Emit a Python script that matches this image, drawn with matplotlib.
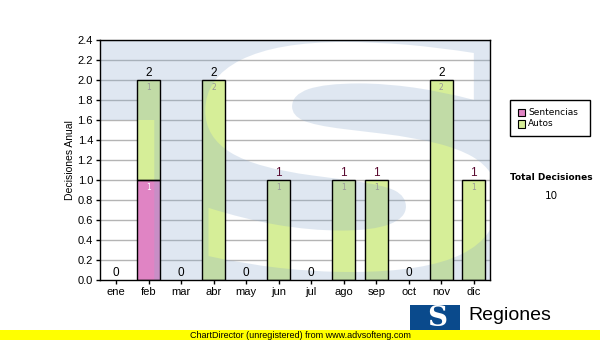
import matplotlib
matplotlib.use("Agg")
import matplotlib.pyplot as plt
from matplotlib.patches import Rectangle, PathPatch
from matplotlib.path import Path
from matplotlib.textpath import TextPath
from matplotlib.font_manager import FontProperties
from matplotlib.transforms import Affine2D
import numpy as np

months = ['ene', 'feb', 'mar', 'abr', 'may', 'jun', 'jul', 'ago', 'sep', 'oct', 'nov', 'dic']
sentencias = [0, 1, 0, 0, 0, 0, 0, 0, 0, 0, 0, 0]
autos = [0, 1, 0, 2, 0, 1, 0, 1, 1, 0, 2, 1]
yticks = [0.0, 0.2, 0.4, 0.6, 0.8, 1.0, 1.2, 1.4, 1.6, 1.8, 2.0, 2.2, 2.4]

totals = [s + a for s, a in zip(sentencias, autos)]
x = np.arange(len(months))

fig = plt.figure(figsize=(6, 3.4), dpi=100)
ax = fig.add_axes([100 / 600, 1 - 280 / 340, 390 / 600, 240 / 340])
ax.set_xlim(-0.5, 11.5)
ax.set_ylim(0, 2.4)

for t in yticks[1:]:
    ax.axhline(t, color='#b4b4b4', lw=1, zorder=1)

w = 0.7
ax.bar(x, sentencias, w, color='#e084c4', edgecolor='none', zorder=2)
ax.bar(x, autos, w, bottom=sentencias, color='#d6ee98', edgecolor='none', zorder=2)

# watermark logo drawn semi-transparent over the plot: blue block with an S cut out
def signed_area(p):
    p = np.asarray(p)
    return 0.5 * np.sum(p[:-1, 0] * p[1:, 1] - p[1:, 0] * p[:-1, 1])

tp = TextPath((0, 0), 'S', size=1, prop=FontProperties(family='DejaVu Sans', weight='bold'))
ext = tp.get_extents()
x0, x1 = (205 - 116) / 32.5, (498 - 116) / 32.5
y0, y1 = (280 - 272) / 100, (280 - 42) / 100
tr = (Affine2D().translate(-ext.x0, -ext.y0)
      .scale((x1 - x0) / ext.width, (y1 - y0) / ext.height).translate(x0, y0))
s_path = tr.transform_path(tp)
s_sign = np.sign(signed_area(s_path.interpolated(8).vertices))

outer = np.array([(-0.5, 2.4), (-0.5, 1.6), (1.17, 1.6), (1.17, 0.0), (11.5, 0.0),
                  (11.5, 2.4), (-0.5, 2.4)])
if np.sign(signed_area(outer)) == s_sign:
    outer = outer[::-1]
outer_path = Path(outer, [Path.MOVETO] + [Path.LINETO] * (len(outer) - 2) + [Path.CLOSEPOLY])
wm = PathPatch(Path.make_compound_path(outer_path, s_path), facecolor='#8aa9cc',
               edgecolor='none', alpha=0.27, zorder=2.5)
ax.add_patch(wm)
wm.set_clip_path(ax.patch)

# bar outlines on top
ax.bar(x, sentencias, w, color='none', edgecolor='black', lw=1, zorder=3)
ax.bar(x, autos, w, bottom=sentencias, color='none', edgecolor='black', lw=1, zorder=3)
for bars in ax.containers:
    for b in bars:
        if b.get_height() == 0:
            b.set_visible(False)

for i in range(len(months)):
    if sentencias[i] > 0:
        ax.text(x[i], sentencias[i] - 0.03, str(sentencias[i]), ha='center', va='top',
                fontsize=5.5, color='white', zorder=4)
    if autos[i] > 0:
        ax.text(x[i], sentencias[i] + autos[i] - 0.03, str(autos[i]), ha='center', va='top',
                fontsize=5.5, color='#999999', zorder=4)
    ax.text(x[i], totals[i] + 0.01, str(totals[i]), ha='center', va='bottom',
            fontsize=8.5, color='black' if totals[i] != 1 else '#5a0a30', zorder=4,
            family='Liberation Sans')

ax.set_xticks(x)
ax.set_xticklabels(months, family='Liberation Sans', fontsize=8)
ax.set_yticks(yticks)
ax.set_yticklabels(['%.1f' % t for t in yticks], family='Liberation Sans', fontsize=8)
ax.tick_params(axis='both', length=3, width=1, color='black', pad=2)
for s in ax.spines.values():
    s.set_linewidth(1)
    s.set_color('black')
    s.set_zorder(5)
ax.set_ylabel('Decisiones Anual', family='Liberation Sans', fontsize=7.5, labelpad=2)

# legend
fig.patches.append(Rectangle((510 / 600, 1 - 136 / 340), 80 / 600, 36 / 340,
                             transform=fig.transFigure, facecolor='white', edgecolor='black', lw=1))
for j, (lab, col) in enumerate([('Sentencias', '#e084c4'), ('Autos', '#d6ee98')]):
    yy = 1 - (113 + j * 11) / 340
    fig.patches.append(Rectangle((518 / 600, yy - 3.5 / 340), 7 / 600, 7 / 340,
                                 transform=fig.transFigure, facecolor=col, edgecolor='black', lw=0.8))
    fig.text(528 / 600, yy, lab, fontsize=6.5, va='center', ha='left', family='DejaVu Sans')

fig.text(551 / 600, 1 - 178 / 340, 'Total Decisiones', fontsize=6.5, fontweight='bold',
         ha='center', va='center', family='DejaVu Sans')
fig.text(551 / 600, 1 - 196 / 340, str(sum(totals)), fontsize=7.5,
         ha='center', va='center', family='DejaVu Sans')

# bottom logo
fig.patches.append(Rectangle((410 / 600, 10 / 340), 50 / 600, 25 / 340,
                             transform=fig.transFigure, facecolor='#0a4a8c', edgecolor='none'))
fig.text(437 / 600, 1 - 319 / 340, 'S', fontsize=20, fontweight='bold', color='white',
         ha='center', va='center', family='DejaVu Serif')
fig.text(468 / 600, 1 - 316 / 340, 'Regiones', fontsize=14, ha='left', va='center',
         family='Liberation Sans')

# unregistered banner
fig.patches.append(Rectangle((0, 0), 1, 10 / 340, transform=fig.transFigure,
                             facecolor='#ffff00', edgecolor='none', zorder=5))
fig.text(300 / 600, 5 / 340, 'ChartDirector (unregistered) from www.advsofteng.com',
         fontsize=6.5, ha='center', va='center', family='Liberation Sans', zorder=6)

fig.savefig('out.png', dpi=100)
